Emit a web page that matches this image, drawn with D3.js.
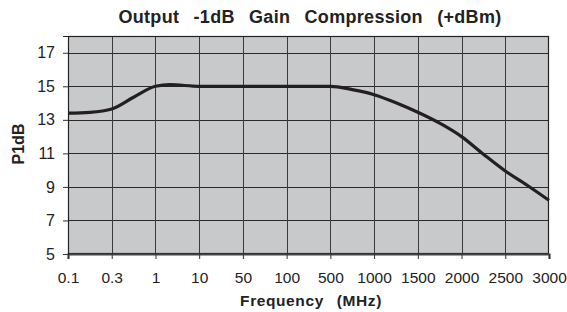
<!DOCTYPE html>
<html lang="en">
<head>
  <meta charset="utf-8">
  <title>Output -1dB Gain Compression</title>
  <script src="https://d3js.org/d3.v7.min.js"></script>
  <style>
    html, body { margin:0; padding:0; background:#fff; }
    svg { display:block; font-family:"Liberation Sans", Arial, sans-serif; }
  </style>
</head>
<body>
  <div id="chart"></div>
  <script>
    // ─── Data ────────────────────────────────────────────────────────────
    const tickFreqs  = [0.1, 0.3, 1, 10, 50, 100, 500, 1000, 1500, 2000, 2500, 3000];
    const tickLabels = ["0.1", "0.3", "1", "10", "50", "100", "500", "1000", "1500", "2000", "2500", "3000"];
    const yTicks     = [5, 7, 9, 11, 13, 15, 17];

    const freqs = [0.1, 0.2, 0.3, 0.65, 1, 4, 10, 50, 100, 500, 750, 1000, 1250, 1500, 1750, 2000, 2250, 2500, 2750, 3000];
    const p1db  = [13.4, 13.45, 13.65, 14.35, 15.0, 15.1, 15.0, 15.0, 15.0, 15.0, 14.8, 14.5, 14.02, 13.45, 12.8, 12.0, 10.95, 9.95, 9.1, 8.2];
    // ──────────────────────────────────────────────────────────────────────

    const W = 567, H = 312;
    const margin = { top: 36, right: 18, bottom: 58, left: 68 };
    const w = W - margin.left - margin.right;
    const h = H - margin.top - margin.bottom;

    const svg = d3.select("#chart").append("svg")
      .attr("width", W).attr("height", H);

    // categories equally spaced -> polylinear scale through tick frequencies
    const pos = d3.scalePoint().domain(d3.range(tickFreqs.length)).range([0, w]);
    const x = d3.scaleLinear()
      .domain(tickFreqs)
      .range(tickFreqs.map((_, i) => pos(i)));
    const y = d3.scaleLinear().domain([5, 18]).range([h, 0]);

    const g = svg.append("g")
      .attr("transform", `translate(${margin.left},${margin.top})`);

    // plot background
    g.append("rect")
      .attr("width", w).attr("height", h)
      .attr("fill", "#c8c9cb");

    // horizontal grid
    g.append("g")
      .selectAll("line")
      .data(yTicks.slice(1))
      .join("line")
        .attr("x1", 0).attr("x2", w)
        .attr("y1", d => Math.round(y(d)) + 0.5).attr("y2", d => Math.round(y(d)) + 0.5)
        .attr("stroke", "#2a2a2a").attr("stroke-width", 1);

    // vertical grid
    g.append("g")
      .selectAll("line")
      .data(tickFreqs.slice(1, -1))
      .join("line")
        .attr("x1", d => Math.round(x(d)) + 0.5).attr("x2", d => Math.round(x(d)) + 0.5)
        .attr("y1", 0).attr("y2", h)
        .attr("stroke", "#3a3a3a").attr("stroke-width", 1);

    // frame
    g.append("rect")
      .attr("x", 0.5).attr("y", 0.5)
      .attr("width", w - 1).attr("height", h - 1)
      .attr("fill", "none").attr("stroke", "#222").attr("stroke-width", 1.2);

    // curve
    const line = d3.line()
      .x((d, i) => x(freqs[i]))
      .y(d => y(d))
      .curve(d3.curveMonotoneX);
    g.append("path")
      .datum(p1db)
      .attr("d", line)
      .attr("fill", "none")
      .attr("stroke", "#231f20")
      .attr("stroke-width", 3.2)
      .attr("stroke-linejoin", "round");

    // x axis
    const xAxis = g.append("g")
      .attr("transform", `translate(0,${h})`)
      .call(d3.axisBottom(x)
        .tickValues(tickFreqs)
        .tickFormat((d, i) => tickLabels[i])
        .tickSize(5)
        .tickPadding(13));
    xAxis.select(".domain").attr("stroke", "#444").attr("stroke-width", 2.2);
    xAxis.selectAll(".tick line").attr("stroke", "#333");
    xAxis.selectAll("text")
      .attr("font-size", 15.5).attr("fill", "#222")
      .attr("font-family", "Liberation Sans, Arial, sans-serif");

    // y axis
    const yAxis = g.append("g")
      .call(d3.axisLeft(y)
        .tickValues(yTicks)
        .tickSize(5)
        .tickPadding(8));
    yAxis.select(".domain").attr("stroke", "#222");
    yAxis.selectAll(".tick line").attr("stroke", "#333");
    yAxis.selectAll("text")
      .attr("font-size", 16).attr("fill", "#222")
      .attr("font-family", "Liberation Sans, Arial, sans-serif");

    // titles
    svg.append("text")
      .attr("x", 310).attr("y", 23)
      .attr("text-anchor", "middle")
      .attr("font-size", 18).attr("font-weight", "bold").attr("fill", "#222")
      .style("word-spacing", "9px")
      .style("letter-spacing", "0.3px")
      .text("Output -1dB Gain Compression (+dBm)");

    svg.append("text")
      .attr("x", 311).attr("y", 306)
      .attr("text-anchor", "middle")
      .attr("font-size", 15.5).attr("font-weight", "bold").attr("fill", "#222")
      .style("word-spacing", "8px")
      .style("letter-spacing", "0.6px")
      .text("Frequency (MHz)");

    svg.append("text")
      .attr("transform", `translate(24,144) rotate(-90)`)
      .attr("text-anchor", "middle")
      .attr("font-size", 16).attr("font-weight", "bold").attr("fill", "#222")
      .text("P1dB");
  </script>
</body>
</html>
